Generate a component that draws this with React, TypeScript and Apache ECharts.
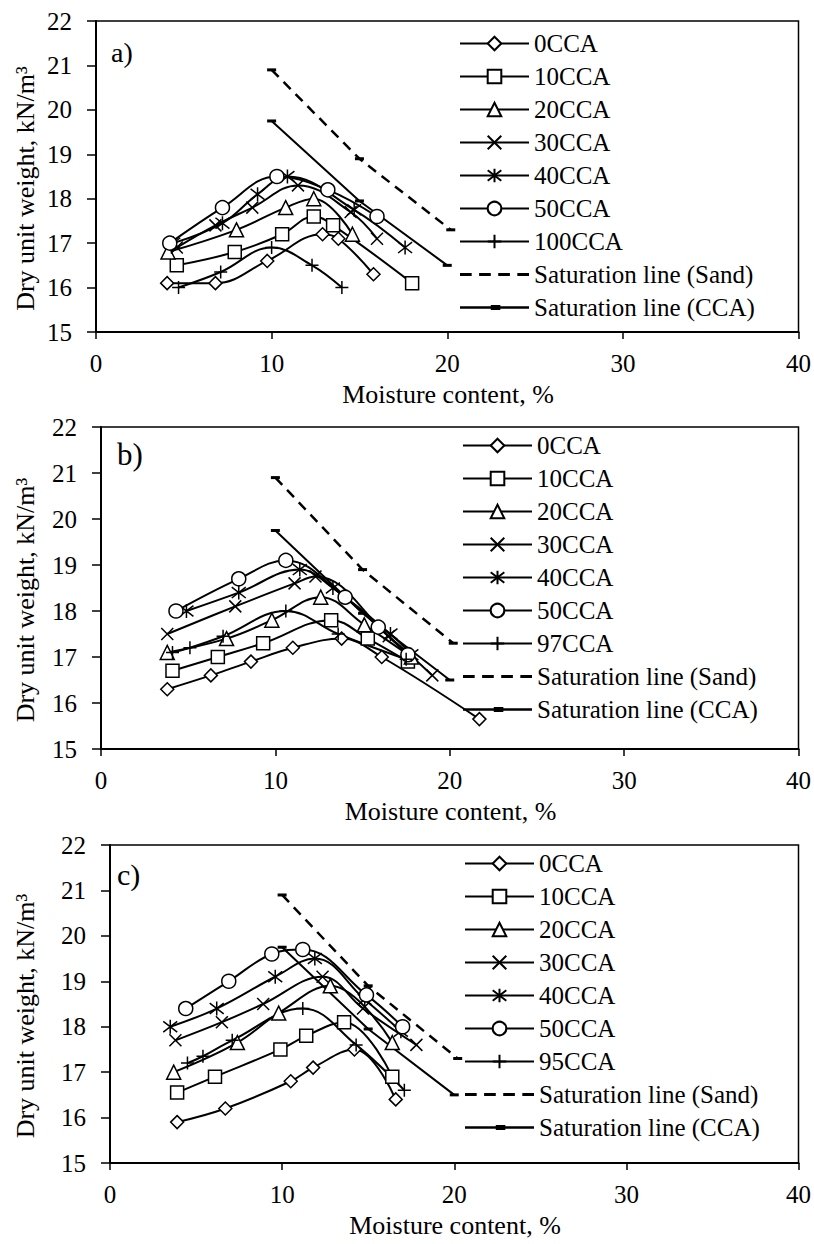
import React, { useEffect, useRef } from "react";
import * as echarts from "echarts";

const FONT = "Liberation Serif";

// Axis ranges shared by the three panels
const moistureRange = [0, 40];
const moistureStep = 10;
const unitWeightRange = [15, 22];
const unitWeightStep = 1;

const xTitle = "Moisture content, %";
const yTitle = "Dry unit weight, kN/m³";

// Mix names per panel
const mixNamesA = ["0CCA", "10CCA", "20CCA", "30CCA", "40CCA", "50CCA", "100CCA"];
const mixNamesB = ["0CCA", "10CCA", "20CCA", "30CCA", "40CCA", "50CCA", "97CCA"];
const mixNamesC = ["0CCA", "10CCA", "20CCA", "30CCA", "40CCA", "50CCA", "95CCA"];

const satNames = ["Saturation line (Sand)", "Saturation line (CCA)"];

// Zero-air-voids lines [moisture %, dry unit weight kN/m3]
const satSand = [[10, 20.9], [15, 18.9], [20.2, 17.3]];
const satCCA = [[10, 19.75], [15, 17.95], [20, 16.5]];

// Panel a) compaction curves
const a0CCA = [[4.05, 16.1], [6.8, 16.1], [9.75, 16.6], [12.9, 17.2], [13.8, 17.1], [15.8, 16.3]];
const a10CCA = [[4.6, 16.5], [7.9, 16.8], [10.6, 17.2], [12.4, 17.6], [13.5, 17.4], [18.0, 16.1]];
const a20CCA = [[4.1, 16.8], [8.0, 17.3], [10.8, 17.8], [12.4, 18.0], [14.6, 17.2]];
const a30CCA = [[4.6, 16.9], [6.8, 17.4], [8.9, 17.8], [11.5, 18.3], [14.5, 17.7], [16.0, 17.1]];
const a40CCA = [[4.4, 17.0], [7.2, 17.45], [9.2, 18.1], [10.9, 18.5], [14.7, 17.75], [17.6, 16.9]];
const a50CCA = [[4.2, 17.0], [7.2, 17.8], [10.3, 18.5], [13.2, 18.2], [16.0, 17.6]];
const a100CCA = [[4.7, 16.0], [7.1, 16.35], [10.0, 16.9], [12.3, 16.5], [14.0, 16.0]];

// Panel b) compaction curves
const b0CCA = [[3.8, 16.3], [6.3, 16.6], [8.6, 16.9], [11.0, 17.2], [13.8, 17.4], [16.1, 17.0], [21.7, 15.65]];
const b10CCA = [[4.1, 16.7], [6.7, 17.0], [9.3, 17.3], [13.2, 17.8], [15.3, 17.4], [17.6, 16.9]];
const b20CCA = [[3.8, 17.1], [7.2, 17.4], [9.8, 17.8], [12.6, 18.3], [15.1, 17.7], [17.8, 17.0]];
const b30CCA = [[3.8, 17.5], [7.7, 18.1], [11.1, 18.6], [12.3, 18.75], [16.5, 17.45], [19.0, 16.6]];
const b40CCA = [[4.9, 18.0], [7.9, 18.4], [11.4, 18.9], [13.3, 18.5], [16.6, 17.5], [17.8, 17.05]];
const b50CCA = [[4.3, 18.0], [7.9, 18.7], [10.6, 19.1], [14.0, 18.3], [15.9, 17.65], [17.6, 17.05]];
const b97CCA = [[4.1, 17.1], [5.1, 17.2], [7.0, 17.45], [10.6, 18.0], [13.6, 17.5], [17.5, 16.95]];

// Panel c) compaction curves
const c0CCA = [[3.9, 15.9], [6.7, 16.2], [10.5, 16.8], [11.8, 17.1], [14.2, 17.5], [16.6, 16.4]];
const c10CCA = [[3.9, 16.55], [6.1, 16.9], [9.9, 17.5], [11.4, 17.8], [13.6, 18.1], [16.4, 16.9]];
const c20CCA = [[3.7, 17.0], [7.4, 17.65], [9.8, 18.3], [12.8, 18.9], [16.4, 17.65]];
const c30CCA = [[3.8, 17.7], [6.5, 18.1], [8.9, 18.5], [12.35, 19.1], [14.7, 18.4], [17.8, 17.6]];
const c40CCA = [[3.5, 18.0], [6.2, 18.4], [9.6, 19.1], [11.9, 19.5], [14.8, 18.6], [16.9, 17.9]];
const c50CCA = [[4.4, 18.4], [6.9, 19.0], [9.4, 19.6], [11.2, 19.7], [14.9, 18.7], [17.0, 18.0]];
const c95CCA = [[4.5, 17.2], [5.4, 17.35], [7.1, 17.7], [11.2, 18.4], [14.3, 17.6], [17.1, 16.6]];

// Marker glyphs, in mix order
const X_MARK = "path://M0,0L10,10M10,0L0,10";
const STAR_MARK = "path://M0,0L10,10M10,0L0,10M5,-1.5L5,11.5";
const PLUS_MARK = "path://M5,0L5,10M0,5L10,5";
const mixSymbols = ["diamond", "rect", "triangle", X_MARK, STAR_MARK, "circle", PLUS_MARK];
const mixSymbolSizes = [13, 13, 14, 12, 14, 14, 13];

const SAND_ICON = "path://M0,0h11v3h-11z M18,0h11v3h-11z M36,0h11v3h-11z M54,0h11v3h-11z";
const CCA_ICON = "path://M0,1h65v2.5h-65z M29,0h9v4.5h-9z";

const panels = [
  {
    label: "a)", names: mixNamesA, mixes: [a0CCA, a10CCA, a20CCA, a30CCA, a40CCA, a50CCA, a100CCA],
    grid: { left: 96, top: 21, width: 704, height: 311 },
    legend: { left: 459, top: 31 }, labelPos: [111, 52], labelSize: 28,
  },
  {
    label: "b)", names: mixNamesB, mixes: [b0CCA, b10CCA, b20CCA, b30CCA, b40CCA, b50CCA, b97CCA],
    grid: { left: 101, top: 427, width: 699, height: 322 },
    legend: { left: 462, top: 433 }, labelPos: [117, 454], labelSize: 31,
  },
  {
    label: "c)", names: mixNamesC, mixes: [c0CCA, c10CCA, c20CCA, c30CCA, c40CCA, c50CCA, c95CCA],
    grid: { left: 110, top: 845, width: 690, height: 318 },
    legend: { left: 464, top: 851 }, labelPos: [117, 874], labelSize: 30,
  },
];

function buildOption() {
  const grid: any[] = [];
  const xAxis: any[] = [];
  const yAxis: any[] = [];
  const legend: any[] = [];
  const series: any[] = [];
  const graphic: any[] = [];

  panels.forEach((p, i) => {
    grid.push({ ...p.grid, show: true, borderColor: "#000", borderWidth: 1.5, backgroundColor: "transparent" });
    xAxis.push({
      gridIndex: i, type: "value", min: moistureRange[0], max: moistureRange[1], interval: moistureStep,
      axisLine: { show: true, onZero: false, lineStyle: { color: "#000", width: 2 } },
      axisTick: { show: true, length: 7, lineStyle: { color: "#000", width: 1.5 } },
      axisLabel: { color: "#000", fontFamily: FONT, fontSize: 25, margin: 19 },
      splitLine: { show: false },
    });
    yAxis.push({
      gridIndex: i, type: "value", min: unitWeightRange[0], max: unitWeightRange[1], interval: unitWeightStep,
      axisLine: { show: true, onZero: false, lineStyle: { color: "#000", width: 2 } },
      axisTick: { show: true, length: 9, lineStyle: { color: "#000", width: 1.5 } },
      axisLabel: { color: "#000", fontFamily: FONT, fontSize: 25, margin: 24 },
      splitLine: { show: false },
    });

    p.mixes.forEach((d, k) => {
      series.push({
        type: "line", name: p.names[k], xAxisIndex: i, yAxisIndex: i, data: d,
        smooth: 0.4, symbol: mixSymbols[k], symbolSize: mixSymbolSizes[k],
        lineStyle: { color: "#000", width: 2 },
        itemStyle: { color: "#fff", borderColor: "#000", borderWidth: 1.5 },
        z: 3,
      });
    });
    series.push({
      type: "line", name: satNames[0], xAxisIndex: i, yAxisIndex: i, data: satSand,
      symbol: "rect", symbolSize: [9, 3],
      lineStyle: { color: "#000", width: 2.5, type: [10, 7] },
      itemStyle: { color: "#000" }, z: 2,
    });
    series.push({
      type: "line", name: satNames[1], xAxisIndex: i, yAxisIndex: i, data: satCCA,
      symbol: "rect", symbolSize: [9, 3],
      lineStyle: { color: "#000", width: 2 },
      itemStyle: { color: "#000" }, z: 2,
    });

    legend.push({
      orient: "vertical", left: p.legend.left, top: p.legend.top, padding: 0,
      itemWidth: 69, itemHeight: 17, itemGap: 8, selectedMode: false,
      textStyle: { color: "#000", fontFamily: FONT, fontSize: 25 },
      data: [
        ...p.names,
        { name: satNames[0], icon: SAND_ICON },
        { name: satNames[1], icon: CCA_ICON },
      ],
    });

    const g = p.grid;
    graphic.push({
      type: "text", x: p.labelPos[0], y: p.labelPos[1],
      style: { text: p.label, fontFamily: FONT, fontSize: p.labelSize, fill: "#000", align: "left", verticalAlign: "middle" },
    });
    graphic.push({
      type: "text", x: g.left + g.width / 2, y: g.top + g.height + 62,
      style: { text: xTitle, fontFamily: FONT, fontSize: 26, fill: "#000", align: "center", verticalAlign: "middle" },
    });
    graphic.push({
      type: "text", x: 25, y: g.top + g.height / 2 + 12, rotation: Math.PI / 2,
      style: { text: yTitle, fontFamily: FONT, fontSize: 26, fill: "#000", align: "center", verticalAlign: "middle" },
    });
  });

  return { animation: false, backgroundColor: "#fff", grid, xAxis, yAxis, legend, series, graphic };
}

export default function App() {
  const ref = useRef<HTMLDivElement>(null);
  useEffect(() => {
    if (!ref.current) return;
    const chart = echarts.init(ref.current, undefined, { renderer: "svg" });
    chart.setOption(buildOption());
    return () => chart.dispose();
  }, []);
  return (
    <div
      ref={ref}
      style={{ position: "absolute", left: 0, top: 0, width: 814, height: 1244, background: "#fff" }}
    />
  );
}
